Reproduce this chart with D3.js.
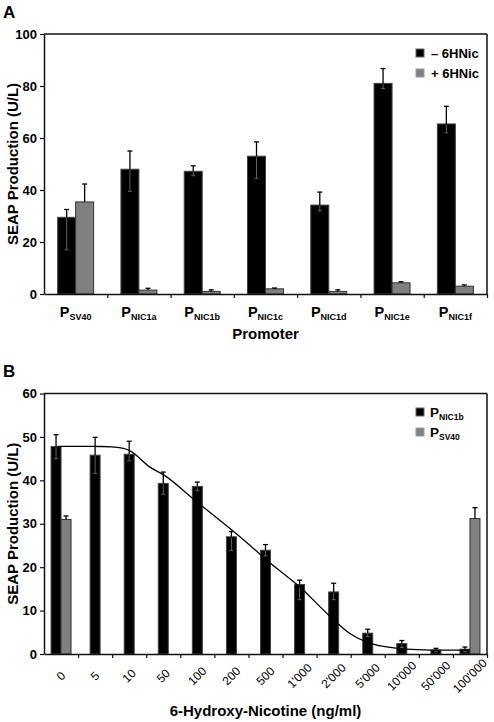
<!DOCTYPE html>
<html><head><meta charset="utf-8">
<script src="https://cdn.jsdelivr.net/npm/d3@7"></script>
<style>
body{margin:0;background:#fff}
text{font-family:"Liberation Sans",Arial,Helvetica,sans-serif;fill:#000}
</style>
</head><body>
<svg id="c" width="494" height="722"></svg>
<script>
// ---------- Panel A data ----------
const promoterSubs = ["SV40","NIC1a","NIC1b","NIC1c","NIC1d","NIC1e","NIC1f"];
const minusVals = [29.5, 48.0, 47.2, 53.0, 34.2, 81.0, 65.4];
const minusHi   = [32.5, 55.0, 49.3, 58.5, 39.2, 86.7, 72.2];
const minusLo   = [17.0, 39.5, 45.5, 44.5, 32.0, 79.0, 62.0];
const plusVals  = [35.4, 1.5, 1.0, 2.0, 1.0, 4.3, 3.0];
const plusHi    = [42.3, 2.2, 1.6, 2.3, 1.6, 4.7, 3.5];
const yTicksA   = [0,20,40,60,80,100];
const legendA   = ["\u2013 6HNic","+ 6HNic"];

// ---------- Panel B data ----------
const concLabels = ["0","5","10","50","100","200","500","1'000","2'000","5'000","10'000","50'000","100'000"];
const nic1bVals = [47.8, 45.8, 46.0, 39.3, 38.6, 27.0, 23.9, 16.0, 14.3, 4.8, 2.4, 0.9, 1.1];
const nic1bHi   = [50.5, 49.9, 49.0, 41.9, 39.6, 28.2, 25.2, 17.0, 16.3, 5.7, 3.1, 1.3, 1.6];
const nic1bLo   = [45.0, 41.6, 44.5, 36.8, 37.6, 23.8, 22.6, 12.5, 12.5, 4.0, 1.5, 0.5, 0.5];
const sv40Vals  = [31.0, null, null, null, null, null, null, null, null, null, null, null, 31.2];
const sv40Hi    = [31.8, null, null, null, null, null, null, null, null, null, null, null, 33.7];
const fitIdx    = [-0.1, 1.0, 1.5, 2.0, 2.6, 3.1, 3.9, 5.25, 6.1, 7.0, 7.85, 8.5, 9.15, 10.15, 11.1, 12.0];
const fitVals   = [47.8, 47.8, 47.7, 46.9, 43.1, 40.8, 35.6, 27.0, 21.2, 15.5, 9.0, 4.6, 2.3, 1.1, 0.9, 0.9];
const yTicksB   = [0,10,20,30,40,50,60];
const legendB   = ["NIC1b","SV40"];

const BLACK = "#000", BLACK_STROKE = "#444", GRAY = "#808080", GRAY_STROKE = "#333";
const svg = d3.select("#c");

function frame(g, x0, x1, y0, y1){
  g.append("line").attr("x1",x0).attr("x2",x1).attr("y1",y0).attr("y2",y0).attr("stroke","#111").attr("stroke-width",1.5);
  g.append("line").attr("x1",x1).attr("x2",x1).attr("y1",y0).attr("y2",y1).attr("stroke","#111").attr("stroke-width",1.5);
}
function styleAxis(a, size){
  a.select(".domain").attr("stroke","#111").attr("stroke-width",1.5);
  a.selectAll(".tick line").attr("stroke","#111").attr("stroke-width",1.2);
  a.selectAll(".tick text").attr("font-size",size).attr("font-weight","bold").attr("fill","#000")
   .style("font-family","'Liberation Sans',Arial,sans-serif");
}
function errBar(g, x, yTop, yBase, color, w){
  g.append("line").attr("x1",x).attr("x2",x).attr("y1",yTop).attr("y2",yBase).attr("stroke",color).attr("stroke-width",1.3);
  g.append("line").attr("x1",x-w).attr("x2",x+w).attr("y1",yTop).attr("y2",yTop).attr("stroke",color).attr("stroke-width",1.3);
}

// =============== Panel A ===============
(function(){
  const L=44, R=487, T=34, B=294;
  const g = svg.append("g");
  const x = d3.scaleBand().domain(d3.range(promoterSubs.length)).range([L,R]).paddingInner(0).paddingOuter(0);
  const xl = d3.scaleLinear().domain([0,promoterSubs.length]).range([L,R]);
  const y = d3.scaleLinear().domain([0,100]).range([B,T]);
  const bw = 18;

  g.append("text").attr("x",3).attr("y",18).attr("font-size",17).attr("font-weight","bold").text("A");

  promoterSubs.forEach((s,i)=>{
    const c = x(i)+x.bandwidth()/2;
    g.append("rect").attr("x",c-bw).attr("y",y(minusVals[i])).attr("width",bw).attr("height",y(0)-y(minusVals[i]))
      .attr("fill",BLACK).attr("stroke",BLACK_STROKE).attr("stroke-width",1);
    errBar(g, c-bw/2, y(minusHi[i]), y(minusVals[i]), "#000", 2.5);
    g.append("line").attr("x1",c-bw/2).attr("x2",c-bw/2).attr("y1",y(minusVals[i])+1).attr("y2",y(minusLo[i])).attr("stroke","#777").attr("stroke-width",0.8);
    g.append("line").attr("x1",c-bw/2-2).attr("x2",c-bw/2+2).attr("y1",y(minusLo[i])).attr("y2",y(minusLo[i])).attr("stroke","#777").attr("stroke-width",0.8);
    g.append("rect").attr("x",c).attr("y",y(plusVals[i])).attr("width",bw).attr("height",y(0)-y(plusVals[i]))
      .attr("fill",GRAY).attr("stroke",GRAY_STROKE).attr("stroke-width",1);
    errBar(g, c+bw/2, y(plusHi[i]), y(plusVals[i]), "#000", 2.5);
  });

  frame(g, L, R, T, B);
  const ya = g.append("g").attr("transform",`translate(${L},0)`)
    .call(d3.axisLeft(y).tickValues(yTicksA).tickSize(4).tickSizeOuter(0).tickPadding(3));
  styleAxis(ya, 13);
  const xa = g.append("g").attr("transform",`translate(0,${B})`)
    .call(d3.axisBottom(xl).tickValues(d3.range(1,promoterSubs.length+1)).tickSize(4).tickSizeOuter(0).tickFormat(""));
  styleAxis(xa, 12);

  promoterSubs.forEach((s,i)=>{
    const c = x(i)+x.bandwidth()/2;
    const t = g.append("text").attr("x",c).attr("y",317).attr("text-anchor","middle").attr("font-weight","bold");
    t.append("tspan").attr("font-size",14.5).text("P");
    t.append("tspan").attr("font-size",9).attr("dy",3).text(s);
  });

  g.append("text").attr("x",(L+R)/2).attr("y",339).attr("text-anchor","middle").attr("font-size",15).attr("font-weight","bold").text("Promoter");
  g.append("text").attr("transform",`translate(18,${(T+B)/2}) rotate(-90)`).attr("text-anchor","middle")
    .attr("font-size",15).attr("font-weight","bold").text("SEAP Production (U/L)");

  const cols=[[BLACK,"#666"],[GRAY,"#999"]];
  legendA.forEach((lab,i)=>{
    const yy = 49 + i*20;
    g.append("rect").attr("x",416).attr("y",yy).attr("width",8).attr("height",8).attr("fill",cols[i][0]).attr("stroke",cols[i][1]).attr("stroke-width",1);
    g.append("text").attr("x",431).attr("y",yy+8.5).attr("font-size",13).attr("font-weight","bold").text(lab);
  });
})();

// =============== Panel B ===============
(function(){
  const L=44, R=487, T=393.5, B=654;
  const g = svg.append("g");
  const n = concLabels.length;
  const x = d3.scaleBand().domain(d3.range(n)).range([L,R]).paddingInner(0).paddingOuter(0);
  const xl = d3.scaleLinear().domain([0,n]).range([L,R]);
  const xc = d3.scaleLinear().domain([-0.5,n-0.5]).range([L,R]);
  const y = d3.scaleLinear().domain([0,60]).range([B,T]);
  const bw = 10;

  g.append("text").attr("x",3).attr("y",377).attr("font-size",17).attr("font-weight","bold").text("B");

  concLabels.forEach((lab,i)=>{
    const c = x(i)+x.bandwidth()/2;
    const hasG = sv40Vals[i]!=null;
    const bx = hasG ? c-bw : c-bw/2;
    g.append("rect").attr("x",bx).attr("y",y(nic1bVals[i])).attr("width",bw).attr("height",y(0)-y(nic1bVals[i]))
      .attr("fill",BLACK).attr("stroke",BLACK_STROKE).attr("stroke-width",1);
    errBar(g, bx+bw/2, y(nic1bHi[i]), y(nic1bVals[i]), "#000", 2.5);
    g.append("line").attr("x1",bx+bw/2).attr("x2",bx+bw/2).attr("y1",y(nic1bVals[i])+1).attr("y2",y(nic1bLo[i])).attr("stroke","#777").attr("stroke-width",0.8);
    g.append("line").attr("x1",bx+bw/2-2).attr("x2",bx+bw/2+2).attr("y1",y(nic1bLo[i])).attr("y2",y(nic1bLo[i])).attr("stroke","#777").attr("stroke-width",0.8);
    if(hasG){
      g.append("rect").attr("x",c).attr("y",y(sv40Vals[i])).attr("width",bw).attr("height",y(0)-y(sv40Vals[i]))
        .attr("fill",GRAY).attr("stroke",GRAY_STROKE).attr("stroke-width",1);
      errBar(g, c+bw/2, y(sv40Hi[i]), y(sv40Vals[i]), "#000", 2.5);
    }
  });

  const line = d3.line().x(d=>xc(d[0])).y(d=>y(d[1])).curve(d3.curveCatmullRom.alpha(0.5));
  g.append("path").datum(fitIdx.map((v,i)=>[v,fitVals[i]])).attr("d",line)
    .attr("fill","none").attr("stroke","#000").attr("stroke-width",1.3);

  frame(g, L, R, T, B);
  const ya = g.append("g").attr("transform",`translate(${L},0)`)
    .call(d3.axisLeft(y).tickValues(yTicksB).tickSize(4).tickSizeOuter(0).tickPadding(3));
  styleAxis(ya, 13);
  const xa = g.append("g").attr("transform",`translate(0,${B})`)
    .call(d3.axisBottom(xl).tickValues(d3.range(1,n+1)).tickSize(4).tickSizeOuter(0).tickFormat(""));
  styleAxis(xa, 12);

  concLabels.forEach((lab,i)=>{
    const c = x(i)+x.bandwidth()/2;
    g.append("text").attr("transform",`translate(${c},676) rotate(-45)`).attr("text-anchor","middle")
      .attr("dominant-baseline","central").attr("font-size",12).text(lab);
  });

  g.append("text").attr("x",(L+R)/2).attr("y",716).attr("text-anchor","middle").attr("font-size",15).attr("font-weight","bold").text("6-Hydroxy-Nicotine (ng/ml)");
  g.append("text").attr("transform",`translate(18,${(T+B)/2}) rotate(-90)`).attr("text-anchor","middle")
    .attr("font-size",15).attr("font-weight","bold").text("SEAP Production (U/L)");

  const cols=[[BLACK,"#666"],[GRAY,"#999"]];
  legendB.forEach((lab,i)=>{
    const yy = 408 + i*20;
    g.append("rect").attr("x",416).attr("y",yy).attr("width",8).attr("height",8).attr("fill",cols[i][0]).attr("stroke",cols[i][1]).attr("stroke-width",1);
    const t = g.append("text").attr("x",430).attr("y",yy+8.5).attr("font-weight","bold");
    t.append("tspan").attr("font-size",13.5).text("P");
    t.append("tspan").attr("font-size",8.5).attr("dy",3).text(lab);
  });
})();
</script>
</body></html>
